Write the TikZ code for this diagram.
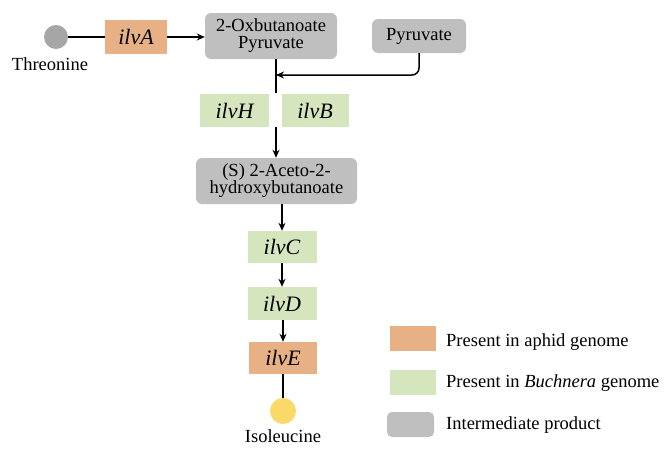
\documentclass[tikz,border=0pt]{standalone}
\usepackage{fontspec}
\setmainfont{Liberation Serif}
\usetikzlibrary{arrows.meta,calc}
\definecolor{orC}{RGB}{231,177,133}
\definecolor{grC}{RGB}{213,229,190}
\definecolor{gyC}{RGB}{191,191,191}
\definecolor{dotgray}{RGB}{166,166,166}
\definecolor{dotyel}{RGB}{250,217,105}
\begin{document}
\begin{tikzpicture}[x=1pt,y=-1pt,
  txt/.style={font=\fontsize{18.5}{16}\selectfont, inner sep=0pt},
  gene/.style={draw=none, inner sep=0pt, font=\fontsize{22}{22}\selectfont\itshape},
  aphid/.style={gene, fill=orC},
  buch/.style={gene, fill=grC},
  inter/.style={fill=gyC, rounded corners=6pt, inner sep=0pt, align=center, font=\fontsize{18.5}{17}\selectfont},
  dot/.style={circle, inner sep=0pt},
  conn/.style={line width=1.5pt},
  arr/.style={conn, -{Stealth[length=8pt,width=7pt]}},
  legtxt/.style={anchor=west, inner sep=0pt, font=\fontsize{18.5}{18}\selectfont}
]
\useasboundingbox (0,0) rectangle (669,458);
% nodes
\node[dot, fill=dotgray, minimum size=24pt] (thr) at (56,37) {};
\node[txt] (thrl) at (50,64) {Threonine};
\node[aphid, minimum width=62pt, minimum height=34pt] (ilvA) at (136,37) {ilvA};
\node[inter, minimum width=132pt, minimum height=46pt] (oxb) at (271,36) {2-Oxbutanoate\\Pyruvate};
\node[inter, minimum width=94pt, minimum height=34pt] (pyr) at (419,36) {Pyruvate};
\coordinate (j) at (276,75);
\node[buch, minimum width=69pt, minimum height=33pt] (ilvH) at (234.5,110.5) {ilvH};
\node[buch, minimum width=67pt, minimum height=33pt] (ilvB) at (315,110.5) {ilvB};
\node[inter, minimum width=161pt, minimum height=46pt] (ace) at (276.5,181) {(S) 2-Aceto-2-\\hydroxybutanoate};
\node[buch, minimum width=69pt, minimum height=32pt] (ilvC) at (282,247) {ilvC};
\node[buch, minimum width=69pt, minimum height=33pt] (ilvD) at (282,303.5) {ilvD};
\node[aphid, minimum width=68pt, minimum height=32pt] (ilvE) at (283,358) {ilvE};
\node[dot, fill=dotyel, minimum size=26pt] (iso) at (283,411) {};
\node[txt] (isol) at (283,436) {Isoleucine};
% connectors
\draw[conn] (thr) -- (ilvA);
\draw[arr] (ilvA) -- (oxb.west |- ilvA);
\draw[conn] (oxb.south -| j) -- ($(j |- ilvH.north)+(0,-1)$);
\draw[arr, rounded corners=7pt] (pyr.south) |- (j);
\draw[arr] (j |- ilvH.south) -- (j |- ace.north);
\draw[arr] (ilvC.north |- ace.south) -- (ilvC.north);
\draw[arr] (ilvC.south) -- (ilvD.north);
\draw[arr] (ilvE.north |- ilvD.south) -- (ilvE.north);
\draw[conn] (ilvE.south -| iso) -- (iso.north);
% legend
\node[fill=orC, minimum width=46pt, minimum height=25pt, inner sep=0pt] (lg1) at (413,338.5) {};
\node[fill=grC, minimum width=46pt, minimum height=25pt, inner sep=0pt] (lg2) at (413,382.5) {};
\node[fill=gyC, rounded corners=5pt, minimum width=47pt, minimum height=25pt, inner sep=0pt] (lg3) at (410.5,424.5) {};
\node[legtxt] (lt1) at (446,342) {Present in aphid genome};
\node[legtxt] (lt2) at (446,383) {Present in \textit{Buchnera} genome};
\node[legtxt] (lt3) at (446,425) {Intermediate product};
\end{tikzpicture}
\end{document}
